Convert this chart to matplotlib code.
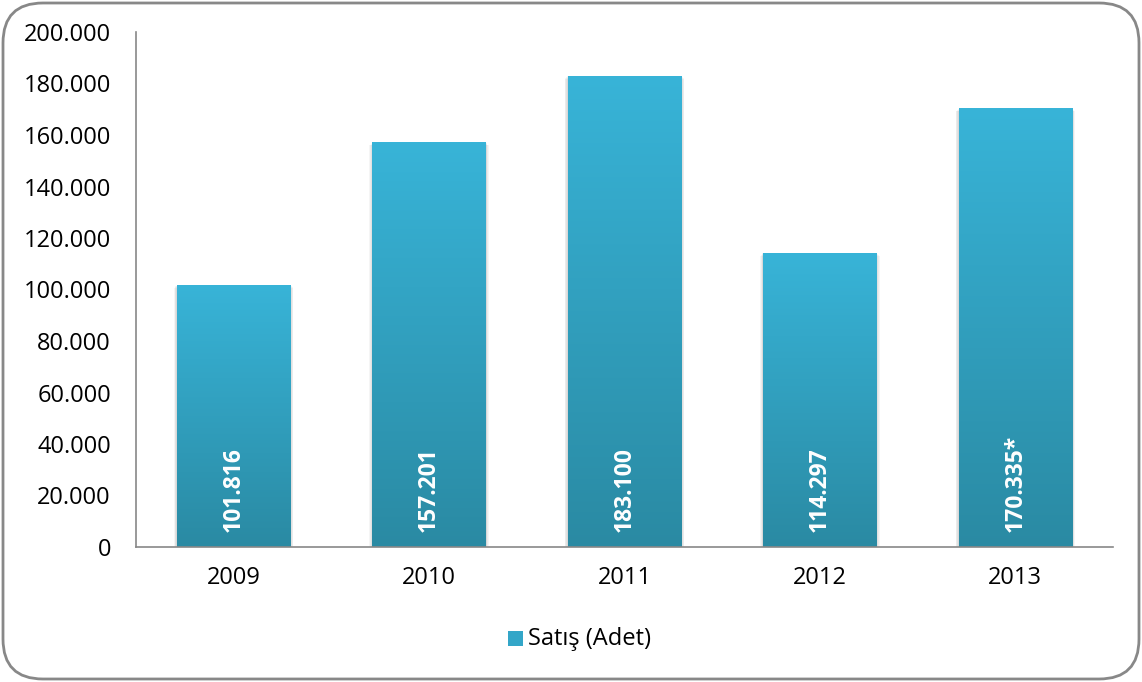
import numpy as np
import matplotlib.pyplot as plt
from matplotlib.colors import LinearSegmentedColormap
from matplotlib.patches import FancyBboxPatch, Rectangle
from matplotlib.ticker import FuncFormatter

plt.rcParams['font.family'] = ['Open Sans', 'DejaVu Sans']

years = ['2009', '2010', '2011', '2012', '2013']
sales = [101816, 157201, 183100, 114297, 170335]
labels = ['101.816', '157.201', '183.100', '114.297', '170.335*']
series_name = 'Satış (Adet)'

top_col = '#38B4D8'
bot_col = '#2A8AA3'
cmap = LinearSegmentedColormap.from_list('bar', [bot_col, top_col])
grad = np.linspace(0, 1, 256).reshape(-1, 1)

fig = plt.figure(figsize=(11.42, 6.82), dpi=100)
ax = fig.add_axes([136 / 1142, 1 - 547 / 682, (1113 - 136) / 1142, (547 - 32) / 682])

x = np.arange(len(years))
bars = ax.bar(x, sales, width=0.58, facecolor='none', edgecolor='none', zorder=2)
for b in bars:
    bx, by = b.get_x(), b.get_y()
    w, h = b.get_width(), b.get_height()
    # soft shadow
    for k in range(1, 5):
        dx = 0.004 * k
        ax.add_patch(Rectangle((bx - dx, by), w + 2 * dx, h - 300 * k, facecolor='#000000',
                               alpha=0.04, edgecolor='none', zorder=1))
    im = ax.imshow(grad, cmap=cmap, aspect='auto', origin='lower',
                   extent=(bx, bx + w, by, by + h), zorder=2)
    im.set_clip_path(b)

for xi, lab in zip(x, labels):
    ax.text(xi, 6000, lab, rotation=90, ha='center', va='bottom', color='white',
            fontsize=16.5, fontweight='bold', zorder=3)

ax.set_xlim(-0.5, len(years) - 0.5)
ax.set_ylim(0, 200000)
ax.set_yticks(np.arange(0, 200001, 20000))
ax.yaxis.set_major_formatter(FuncFormatter(lambda v, p: f'{int(v):,}'.replace(',', '.')))
ax.set_xticks(x)
ax.set_xticklabels(years)
ax.tick_params(axis='both', length=0, labelsize=17, colors='black')
ax.tick_params(axis='y', pad=18)
ax.tick_params(axis='x', pad=14)
for s in ['top', 'right']:
    ax.spines[s].set_visible(False)
for s in ['left', 'bottom']:
    ax.spines[s].set_color('#888888')
    ax.spines[s].set_linewidth(1.2)
    ax.spines[s].set_zorder(4)

# legend
lx, ly = 508 / 1142, 1 - 646 / 682
fig.add_artist(Rectangle((lx, ly), 15 / 1142, 15 / 682, transform=fig.transFigure,
                         facecolor='#33A6C8', edgecolor='none'))
fig.text(lx + 20 / 1142, ly + 7 / 682, series_name, fontsize=17, va='center', ha='left')

# rounded border
border = FancyBboxPatch((3 / 1142, 3 / 682), 1 - 6 / 1142, 1 - 6 / 682,
                        boxstyle='round,pad=0,rounding_size=0.035',
                        transform=fig.transFigure, facecolor='none',
                        edgecolor='#888888', linewidth=2, mutation_aspect=1142 / 682)
fig.add_artist(border)

fig.savefig('out.png', dpi=100)
